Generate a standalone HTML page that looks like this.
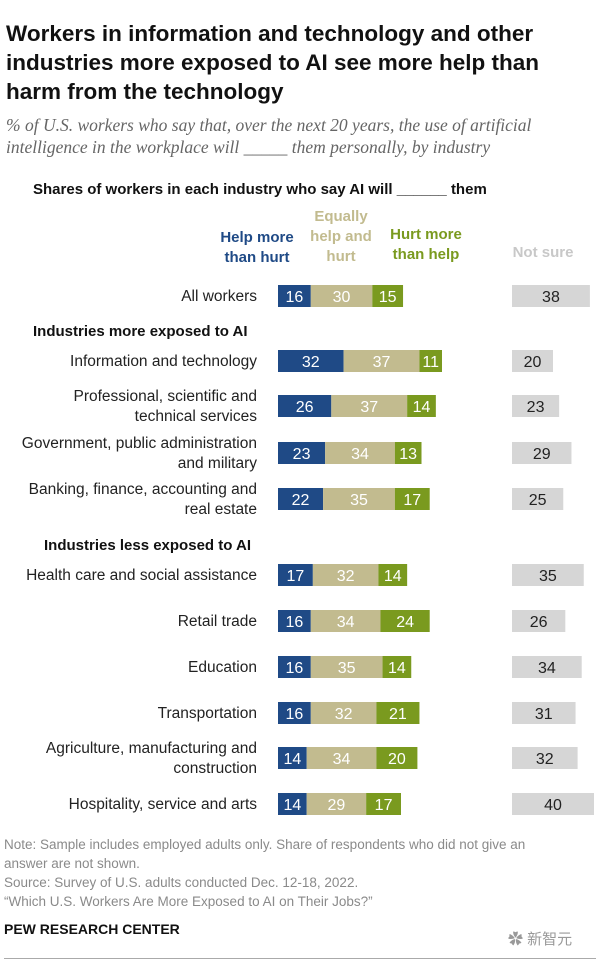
<!DOCTYPE html>
<html><head><meta charset="utf-8"><style>
body{margin:0;background:#fff;width:600px;height:965px;overflow:hidden;font-family:"Liberation Sans",Arial,sans-serif;}
.t{position:absolute;}
</style></head><body>
<div class="t" style="left:6px;top:19px;width:560px;font-size:22.5px;font-weight:bold;line-height:29px;color:#111;">Workers in information and technology and other industries more exposed to AI see more help than harm from the technology</div>
<div class="t" style="left:6px;top:114px;width:575px;font-family:'Liberation Serif',serif;font-style:italic;font-size:17.5px;line-height:22px;color:#666;">% of U.S. workers who say that, over the next 20 years, the use of artificial intelligence in the workplace will _____ them personally, by industry</div>
<div class="t" style="left:33px;top:181px;font-size:15px;font-weight:bold;color:#111;">Shares of workers in each industry who say AI will ______ them</div>
<div class="t" style="left:208px;top:228px;width:98px;text-align:center;font-size:15px;font-weight:bold;line-height:20px;color:#1f4a86;">Help more than hurt</div>
<div class="t" style="left:298px;top:207px;width:86px;text-align:center;font-size:15px;font-weight:bold;line-height:20px;color:#c2bb8f;">Equally help and hurt</div>
<div class="t" style="left:380px;top:225px;width:92px;text-align:center;font-size:15px;font-weight:bold;line-height:20px;color:#7a9a1f;">Hurt more than help</div>
<div class="t" style="left:506px;top:244px;width:74px;text-align:center;font-size:15px;font-weight:bold;color:#c8c8c8;">Not sure</div>
<div class="t" style="left:33px;top:323px;font-size:15px;font-weight:bold;color:#111;">Industries more exposed to AI</div>
<div class="t" style="left:44px;top:537px;font-size:15px;font-weight:bold;color:#111;">Industries less exposed to AI</div>
<svg id="chart" class="t" style="left:0;top:0" width="600" height="830"></svg>
<div class="t" style="left:4px;top:835px;width:590px;font-size:13.5px;line-height:19px;color:#8a8a8a;white-space:nowrap;">Note: Sample includes employed adults only. Share of respondents who did not give an<br>answer are not shown.<br>Source: Survey of U.S. adults conducted Dec. 12-18, 2022.<br>“Which U.S. Workers Are More Exposed to AI on Their Jobs?”</div>
<div class="t" style="left:4px;top:921px;font-size:14px;font-weight:bold;color:#111;">PEW RESEARCH CENTER</div>
<div class="t" style="left:508px;top:928px;font-size:15px;color:#999;font-family:'Liberation Sans','Noto Sans CJK SC',sans-serif;">✿ 新智元</div>
<div class="t" style="left:4px;top:958px;width:592px;height:1px;background:#aaa;"></div>
<script>
const categories=["All workers","Information and technology","Professional, scientific and|technical services","Government, public administration|and military","Banking, finance, accounting and|real estate","Health care and social assistance","Retail trade","Education","Transportation","Agriculture, manufacturing and|construction","Hospitality, service and arts"];
const helpVals=[16,32,26,23,22,17,16,16,16,14,14];
const equalVals=[30,37,37,34,35,32,34,35,32,34,29];
const hurtVals=[15,11,14,13,17,14,24,14,21,20,17];
const notSureVals=[38,20,23,29,25,35,26,34,31,32,40];
const rowY=[296,361,406,453,499,575,621,667,713,758,804];
const svg=document.getElementById('chart');
const NS='http://www.w3.org/2000/svg';
const x0=278,nx0=512,k=2.05,bh=22;
const xs=v=>v*k;
function rect(x,y,w,h,f,name){const r=document.createElementNS(NS,'rect');r.setAttribute('x',x);r.setAttribute('y',y);r.setAttribute('width',w);r.setAttribute('height',h);r.setAttribute('fill',f);


svg.appendChild(r);}
function text(x,y,s,f,anchor,name,size){const t=document.createElementNS(NS,'text');t.setAttribute('x',x);t.setAttribute('y',y);t.setAttribute('fill',f);t.setAttribute('text-anchor',anchor);t.setAttribute('font-size',size||16);t.setAttribute('font-family','Liberation Sans, Arial, sans-serif');t.textContent=s;


svg.appendChild(t);}
categories.forEach((c,i)=>{
 const cy=rowY[i],y=cy-bh/2;
 const lines=c.split('|');
 lines.forEach((l,j)=>text(257,cy+5+(j-(lines.length-1)/2)*20,l,'#222','end','category-label',15.5));
 let x=x0;
 const segs=[[helpVals[i],'#1f4a86','#fff','bar-help'],[equalVals[i],'#c2bb8f','#fff','bar-equal'],[hurtVals[i],'#7a9a1f','#fff','bar-hurt']];
 segs.forEach(s=>{const w=xs(s[0]);rect(x,y,w,bh,s[1],s[3]);text(x+w/2,cy+6,s[0],s[2],'middle',s[3]+'-value');x+=w;});
 const w=xs(notSureVals[i]);rect(nx0,y,w,bh,'#d6d6d6','bar-not-sure');text(nx0+w/2,cy+6,notSureVals[i],'#222','middle','bar-not-sure-value');
});
</script>
</body></html>
